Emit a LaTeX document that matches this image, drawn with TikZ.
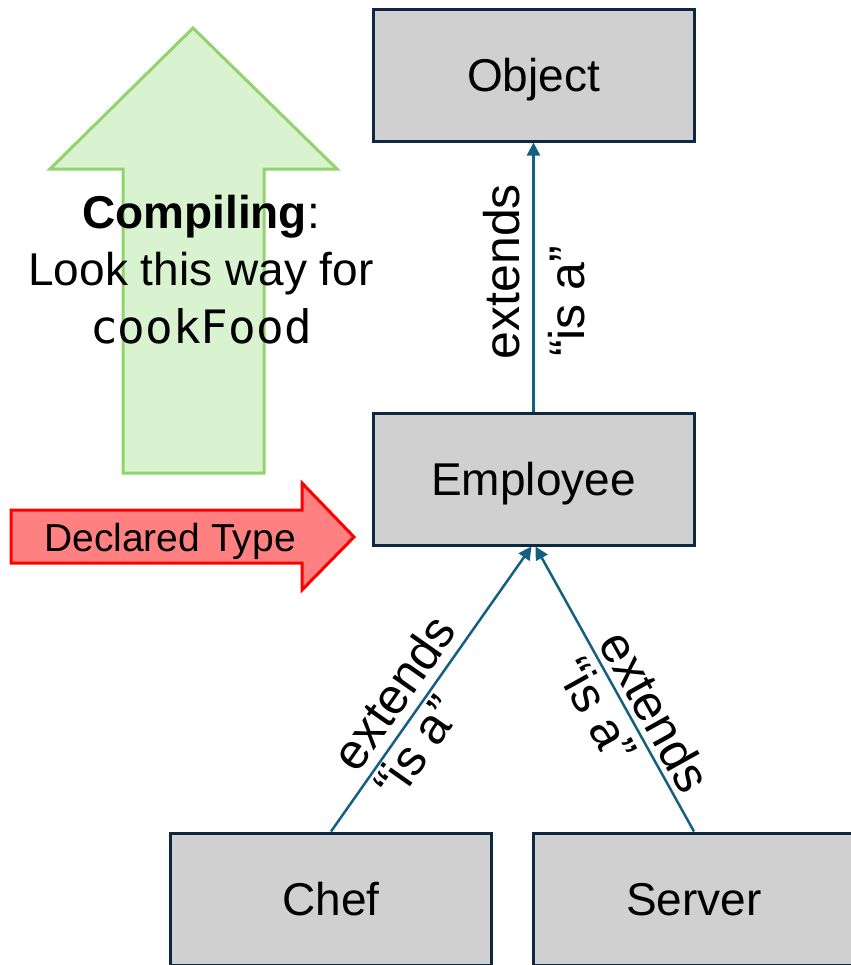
\documentclass[tikz,border=0pt]{standalone}
\usepackage{fontspec}
\setmainfont{Liberation Sans}
\setmonofont{DejaVu Sans Mono}
\usepackage{xcolor}
\usepackage{tikz}
\usetikzlibrary{arrows.meta}

\definecolor{boxgray}{HTML}{D0D0D0}
\definecolor{boxline}{HTML}{0E2841}
\definecolor{isablue}{HTML}{156082}
\definecolor{upfill}{HTML}{D9F2D0}
\definecolor{upline}{HTML}{92D36E}
\definecolor{declfill}{HTML}{FF8080}

\begin{document}
\begin{tikzpicture}[x=0.5pt,y=-0.5pt,
  classbox/.style={draw=boxline,fill=boxgray,line width=1.5pt,minimum width=160.5pt,minimum height=66pt,
    inner sep=0pt,text height=16.5pt,text depth=0pt,font=\fontsize{23}{28}\selectfont},
  isa/.style={draw=isablue,line width=1.25pt,-{Triangle[length=6.5pt,width=6.5pt]}},
  rel/.style={sloped,inner xsep=0pt,text height=18pt,text depth=0pt,font=\fontsize{25}{30}\selectfont},
  note/.style={anchor=base,inner sep=0pt,font=\fontsize{23}{28}\selectfont}]
\useasboundingbox (0,0) rectangle (851,965);

% the two big arrows
\draw[fill=upfill,draw=upline,line width=1.5pt] (193,28) -- (337,169) -- (264,169) -- (264,473)
  -- (123,473) -- (123,169) -- (50,169) -- cycle;
\draw[fill=declfill,draw=red,line width=1.5pt] (11,510) -- (302,510) -- (302,483) -- (354,537)
  -- (302,590) -- (302,563) -- (11,563) -- cycle;

\node[note] (comp) at (201,228) {\textbf{Compiling}:};
\node[note] (look) at (201,285) {Look this way for};
\node[note] (food) at (201,343) {\ttfamily cookFood};
\node[note,font=\fontsize{19.5}{24}\selectfont] (decl) at (170,551) {Declared Type};

% classes
\node[classbox] (obj) at (533.5,75) {Object};
\node[classbox] (emp) at (533.5,479) {Employee};
\node[classbox] (chef) at (331,899) {Chef};
\node[classbox] (serv) at (694,899) {Server};

\draw[isa] (emp.north) -- (obj.south)
  node[rel,pos=0.52,anchor=south,inner ysep=6.5pt] (ext1) {extends}
  node[rel,pos=0.41,anchor=north,inner ysep=7pt] (isa1) {“is a”};
\draw[isa] (chef.north) -- ([xshift=-1pt]emp.south)
  node[rel,pos=0.43,anchor=south,inner ysep=5pt] (ext2) {extends}
  node[rel,pos=0.34,anchor=north,inner ysep=1pt] (isa2) {“is a”};
\draw[isa] (serv.north) -- ([xshift=1pt]emp.south)
  node[rel,pos=0.38,anchor=south,inner ysep=3pt] (ext3) {extends}
  node[rel,pos=0.47,anchor=north,inner ysep=3pt] (isa3) {“is a”};
\end{tikzpicture}
\end{document}
